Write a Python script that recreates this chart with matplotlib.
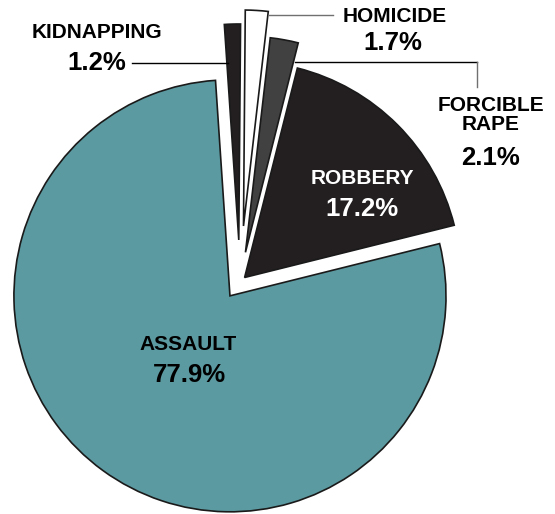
import matplotlib
matplotlib.use("Agg")
import matplotlib.pyplot as plt
from matplotlib.lines import Line2D

plt.rcParams['font.family'] = ['Liberation Sans', 'DejaVu Sans']

# slices, counter-clockwise from the right edge of robbery
names = ["ROBBERY", "FORCIBLE\nRAPE", "HOMICIDE", "KIDNAPPING", "ASSAULT"]
shares = [17.2, 2.1, 1.7, 1.2, 77.9]
colors = ["#231f20", "#414141", "#ffffff", "#231f20", "#5b9aa0"]
explode = [0.03, 0.14, 0.26, 0.195, 0.079]

W, H = 555, 514
fig = plt.figure(figsize=(W / 100, H / 100), dpi=100)
ax = fig.add_axes([0, 0, 1, 1])

wedges, _ = ax.pie(shares, explode=explode, colors=colors, startangle=14,
                   counterclock=True,
                   wedgeprops=dict(edgecolor="#1a1a1a", linewidth=1.2))

ax.set_aspect("auto")
ax.set_xlim(-1.111, 1.458)
ax.set_ylim(-1.074, 1.306)
ax.axis("off")


def px(x, y):
    return x / W, 1 - y / H


def label(x, y, s, size, color="black"):
    fx, fy = px(x, y)
    fig.text(fx, fy, s, fontsize=size, fontweight="bold", color=color,
             ha="center", va="center", linespacing=1.0)


def line(xs, ys, color="black", lw=1.0):
    pts = [px(x, y) for x, y in zip(xs, ys)]
    fig.add_artist(Line2D([p[0] for p in pts], [p[1] for p in pts],
                          color=color, lw=lw, transform=fig.transFigure))


NAME, PCT = 15, 18.5

# in-slice labels
label(362, 179, names[0], NAME, color="white")
label(362, 209, f"{shares[0]}%", PCT, color="white")
label(188, 345, names[4], NAME)
label(189, 375, f"{shares[4]}%", PCT)

# outside labels
label(97, 33, names[3], NAME)
label(97, 63, f"{shares[3]}%", PCT)
line([132, 228], [63, 63])

label(395, 17, names[2], NAME)
label(393, 43, f"{shares[2]}%", PCT)
line([269, 333], [15, 15], color="#707070")

label(491, 115, names[1], NAME)
label(490, 158, f"{shares[1]}%", PCT)
line([295, 477], [62, 62])
line([477, 477], [62, 87], color="#707070")

fig.savefig("out.png", dpi=100)
